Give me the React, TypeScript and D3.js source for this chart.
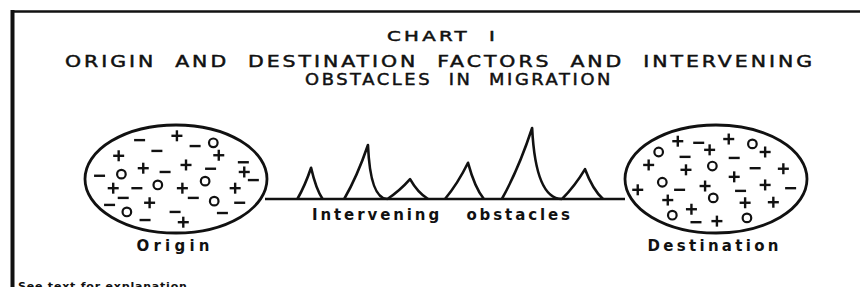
import React from 'react';
import * as d3 from 'd3';

// title lines
const titleLines = [
  'CHART  I',
  'ORIGIN  AND  DESTINATION  FACTORS  AND  INTERVENING',
  'OBSTACLES  IN  MIGRATION',
];

// obstacles along the route (distance 0-100, height 0-100)
const obstacles = [
  { start: 9, apex: 12.8, end: 16, height: 44 },
  { start: 22, apex: 28.6, end: 34, height: 76 },
  { start: 34, apex: 40.3, end: 45.3, height: 28 },
  { start: 50, apex: 56.4, end: 60.8, height: 51 },
  { start: 65.8, apex: 74.2, end: 82.5, height: 100 },
  { start: 82.5, apex: 88.9, end: 93.9, height: 42 },
];

// factors inside each place: [sign, u, v] with u,v in -1..1 of the ellipse
const originFactors: [string, number, number][] = [
  ['-', -0.4, -0.72], ['+', 0.01, -0.8], ['-', 0.21, -0.61], ['o', 0.41, -0.67],
  ['+', -0.63, -0.43], ['-', -0.21, -0.52], ['+', 0.47, -0.44], ['-', 0.74, -0.31],
  ['-', -0.84, -0.06], ['o', -0.6, -0.09], ['+', -0.36, -0.2], ['-', -0.12, -0.13],
  ['+', 0.11, -0.26], ['-', 0.38, -0.19], ['+', 0.75, -0.13], ['-', 0.85, 0.02],
  ['+', -0.69, 0.17], ['-', -0.43, 0.17], ['o', -0.2, 0.11], ['+', 0.07, 0.17],
  ['o', 0.32, 0.04], ['+', 0.65, 0.17], ['-', -0.58, 0.35], ['-', -0.73, 0.48],
  ['+', -0.29, 0.44], ['-', 0.19, 0.35], ['o', 0.42, 0.41], ['-', 0.7, 0.44],
  ['o', -0.54, 0.61], ['-', -0.01, 0.61], ['-', -0.34, 0.76], ['+', 0.08, 0.8],
  ['-', 0.51, 0.63],
];

const destinationFactors: [string, number, number][] = [
  ['+', -0.42, -0.7], ['-', -0.19, -0.67], ['+', 0.14, -0.74], ['o', 0.4, -0.65],
  ['o', -0.63, -0.5], ['-', -0.34, -0.41], ['+', -0.07, -0.54], ['-', 0.2, -0.39],
  ['+', 0.54, -0.5], ['+', -0.74, -0.26], ['+', -0.33, -0.17], ['o', -0.04, -0.24],
  ['-', 0.43, -0.2], ['+', 0.74, -0.19], ['o', -0.59, 0.06], ['-', -0.4, 0.2],
  ['+', -0.12, 0.13], ['+', 0.2, -0.04], ['-', 0.27, 0.22], ['+', 0.54, 0.11],
  ['-', 0.82, 0.17], ['+', -0.86, 0.2], ['+', -0.53, 0.39], ['o', -0.03, 0.35],
  ['+', 0.32, 0.44], ['+', 0.63, 0.43], ['o', -0.48, 0.67], ['+', -0.27, 0.56],
  ['-', -0.22, 0.8], ['+', 0.01, 0.78], ['o', 0.34, 0.72],
];

const places = [
  { name: 'Origin', factors: originFactors, cx: 176 },
  { name: 'Destination', factors: destinationFactors, cx: 716 },
];

const labels = { route: 'Intervening   obstacles', note: 'See text for explanation' };

const W = 860;
const H = 287;
const font = "'DejaVu Sans', Verdana, sans-serif";

const Place = ({ p }) => {
  const rx = 91, ry = 54, cy = 179;
  const x = d3.scaleLinear().domain([-1, 1]).range([p.cx - rx, p.cx + rx]);
  const y = d3.scaleLinear().domain([-1, 1]).range([cy - ry, cy + ry]);
  const nameWidth = p.name.length > 6 ? 131 : 73;
  return (
    <g>
      <ellipse cx={p.cx} cy={cy} rx={rx} ry={ry} fill="#fff" stroke="#111" strokeWidth={2.8} />
      {p.factors.map(([s, u, v], i) => {
        const px = x(u), py = y(v);
        if (s === 'o') return <circle key={i} cx={px} cy={py} r={4.3} fill="none" stroke="#111" strokeWidth={2.2} />;
        return (
          <g key={i} stroke="#111" strokeWidth={2.4}>
            <line x1={px - 5.5} x2={px + 5.5} y1={py} y2={py} />
            {s === '+' && <line x1={px} x2={px} y1={py - 5.5} y2={py + 5.5} />}
          </g>
        );
      })}
      <text x={p.cx - 3 - nameWidth / 2} y={251} textLength={nameWidth} lengthAdjust="spacing"
        fontFamily={font} fontSize={15} fontWeight={600} fill="#111">{p.name}</text>
    </g>
  );
};

// wide, letter-spaced title text stretched to the span it covers
const Title = ({ x, y, width, size, children }) => (
  <text x={x} y={y} textLength={width} lengthAdjust="spacingAndGlyphs" fontFamily={font}
    fontSize={size} letterSpacing={2.4} fill="#111" stroke="#111" strokeWidth={0.5}
    style={{ whiteSpace: 'pre' }}>{children}</text>
);

export default function App() {
  const x = d3.scaleLinear().domain([0, 100]).range([265, 625]);
  const y = d3.scaleLinear().domain([0, 100]).range([199, 128]);

  const path = d3.path();
  obstacles.forEach((o) => {
    const sx = x(o.start), ax = x(o.apex), ex = x(o.end);
    const ay = y(o.height), base = y(0);
    path.moveTo(sx, base);
    path.quadraticCurveTo(sx + (ax - sx) * 0.55, y(o.height * 0.42), ax, ay);
    const steep = o.height > 70;
    path.quadraticCurveTo(ax + (ex - ax) * (steep ? 0.12 : 0.42), y(steep ? 0 : o.height * 0.32), ex, base);
  });

  return (
    <svg width={W} height={H} style={{ position: 'absolute', left: 0, top: 0, background: '#fff' }}>
      <rect width={W} height={H} fill="#fff" />
      {/* frame */}
      <line x1={11} x2={W} y1={11.5} y2={11.5} stroke="#111" strokeWidth={2.5} />
      <line x1={12.5} x2={12.5} y1={10} y2={H} stroke="#111" strokeWidth={4} />

      <Title x={387} y={41} width={111} size={14.5}>{titleLines[0]}</Title>
      <Title x={65} y={67} width={750} size={16.5}>{titleLines[1]}</Title>
      <Title x={305} y={85} width={308} size={16.5}>{titleLines[2]}</Title>

      {/* route and obstacles */}
      <line x1={x(0)} x2={x(100)} y1={y(0)} y2={y(0)} stroke="#111" strokeWidth={2.6} />
      <path d={path.toString()} fill="none" stroke="#111" strokeWidth={2.6} strokeLinejoin="round" />

      {places.map((p) => <Place key={p.name} p={p} />)}

      <text x={312} y={220} textLength={258} lengthAdjust="spacing" fontFamily={font} fontSize={15}
        fontWeight={600} fill="#111" style={{ whiteSpace: 'pre' }}>{labels.route}</text>
      <text x={18} y={290} fontFamily={font} fontSize={11} fontWeight="bold" letterSpacing={0.8} fill="#111">
        {labels.note}
      </text>
    </svg>
  );
}
